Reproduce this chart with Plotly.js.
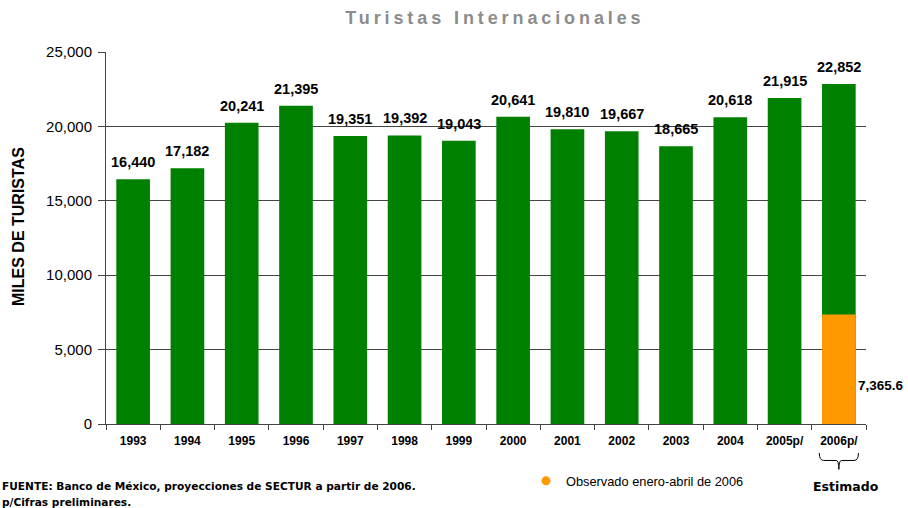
<!DOCTYPE html>
<html><head><meta charset="utf-8">
<script src="https://cdn.plot.ly/plotly-3.0.1.min.js"></script>
<style>html,body{margin:0;padding:0;background:#fff}#chart{width:908px;height:508px}
.gtitle{letter-spacing:3.9px}</style>
</head><body><div id="chart"></div>
<script>
const years = ['1993','1994','1995','1996','1997','1998','1999','2000','2001','2002','2003','2004','2005p/','2006p/'];
const totals = [16440,17182,20241,21395,19351,19392,19043,20641,19810,19667,18665,20618,21915,22852];
const observedYear = '2006p/';
const observedValue = 7365.6;
const greenColor = '#008000';
const orangeColor = '#FF9900';

const fmt = v => v.toLocaleString('en-US');
const idx = years.map((c,i)=>i);
const ci = years.indexOf(observedYear);

const traces = [
  {type:'bar', x: idx, y: totals, marker:{color: greenColor}, width:0.62, showlegend:false, hoverinfo:'skip'},
  {type:'bar', x:[ci], y:[observedValue], marker:{color: orangeColor}, width:0.62, showlegend:false, hoverinfo:'skip'},
  {type:'scatter', mode:'markers', x:[null], y:[null], name:'Observado enero-abril de 2006',
   marker:{color: orangeColor, size:9, symbol:'circle'}, showlegend:true}
];

const bold = {family:'Liberation Sans, Arial, sans-serif', size:14.5, color:'#000', weight:'bold'};
const footFont = {family:'DejaVu Sans, sans-serif', size:10.6, weight:'bold', color:'#000'};
const annotations = years.map((c,i)=>({
  x:i, y:totals[i], xref:'x', yref:'y', text: fmt(totals[i]), showarrow:false,
  yanchor:'bottom', yshift:7, font: bold
}));
annotations.push({x:ci, y:0, xref:'x', yref:'y', text: observedValue.toLocaleString('en-US',{minimumFractionDigits:1}),
  showarrow:false, xanchor:'left', yanchor:'middle', xshift:17, yshift:39, font:{...bold, size:13.5}});
annotations.push({x:ci, y:-0.167, xref:'x', yref:'paper', text:'Estimado', showarrow:false, xshift:7,
  xanchor:'center', yanchor:'middle', font:{family:'DejaVu Sans, sans-serif', size:12.5, weight:'bold', color:'#000'}});
annotations.push({x:0, y:-0.166, xref:'paper', yref:'paper', xshift:-106, text:'FUENTE: Banco de México, proyecciones de SECTUR a partir de 2006.',
  showarrow:false, xanchor:'left', yanchor:'middle', font:footFont});
annotations.push({x:0, y:-0.211, xref:'paper', yref:'paper', xshift:-106, text:'p/Cifras preliminares.',
  showarrow:false, xanchor:'left', yanchor:'middle', font:footFont});
annotations.push({x:0, y:(424-227)/372, xref:'paper', yref:'paper', xshift:-88, text:'MILES DE TURISTAS', textangle:-90,
  showarrow:false, xanchor:'center', yanchor:'middle', font:{family:'Liberation Sans, Arial, sans-serif', size:16, weight:'bold', color:'#000'}});

// brace under the estimated category
const x0 = ci-0.36, x1 = ci+0.36, xm = ci;
const yt = -0.078, yb = -0.098, yp = -0.122;
const bracePath = `M ${x0},${yt} Q ${x0},${yb} ${x0+0.08},${yb} L ${xm-0.05},${yb} Q ${xm},${yb} ${xm},${yp} Q ${xm},${yb} ${xm+0.05},${yb} L ${x1-0.08},${yb} Q ${x1},${yb} ${x1},${yt}`;

const layout = {
  width:908, height:508,
  margin:{l:106, r:42, t:52, b:84},
  paper_bgcolor:'#fff', plot_bgcolor:'#fff',
  barmode:'overlay',
  title:{text:'Turistas Internacionales', x:0.545, xanchor:'center', y:0.965, yanchor:'middle',
    font:{family:'Liberation Sans, Arial, sans-serif', size:18, color:'#8c8c8c', weight:'bold'}},
  xaxis:{tickmode:'array', tickvals: idx, ticktext: years, range:[-0.5,13.5], ticks:'', ticklabelstandoff:6,
    showline:true, linecolor:'#444', linewidth:1, showgrid:false, zeroline:false,
    tickfont:{family:'Liberation Sans, Arial, sans-serif', size:12, weight:'bold', color:'#000'}},
  xaxis2:{overlaying:'x', matches:'x', range:[-0.5,13.5], tickmode:'array', tickvals: idx.concat([13]).map(v=>v+0.5).concat([-0.5]),
    ticks:'outside', ticklen:5, tickcolor:'#444', showticklabels:false, showgrid:false, showline:false, zeroline:false},
  yaxis:{range:[0,25000], dtick:5000, tickformat:',d', ticks:'outside', ticklen:7, tickcolor:'#444', ticklabelstandoff:3,
    showline:true, linecolor:'#444', linewidth:1, showgrid:true, gridcolor:'#444', gridwidth:1,
    tickfont:{family:'Liberation Sans, Arial, sans-serif', size:15, color:'#000'}},
  showlegend:true,
  legend:{x:(526/908), y:(508-466)/508, xref:'container', yref:'container', xanchor:'left', yanchor:'top', orientation:'h', bgcolor:'rgba(0,0,0,0)',
    font:{family:'Liberation Sans, Arial, sans-serif', size:12.8, color:'#000'}},
  annotations: annotations,
  shapes:[{type:'path', xref:'x', yref:'paper', path:bracePath, line:{color:'#000', width:1}}]
};
// dummy trace to activate xaxis2 for boundary ticks
traces.push({type:'scatter', x:[null], y:[null], xaxis:'x2', showlegend:false, hoverinfo:'skip'});

Plotly.newPlot('chart', traces, layout, {staticPlot:true, displayModeBar:false});
</script></body></html>
